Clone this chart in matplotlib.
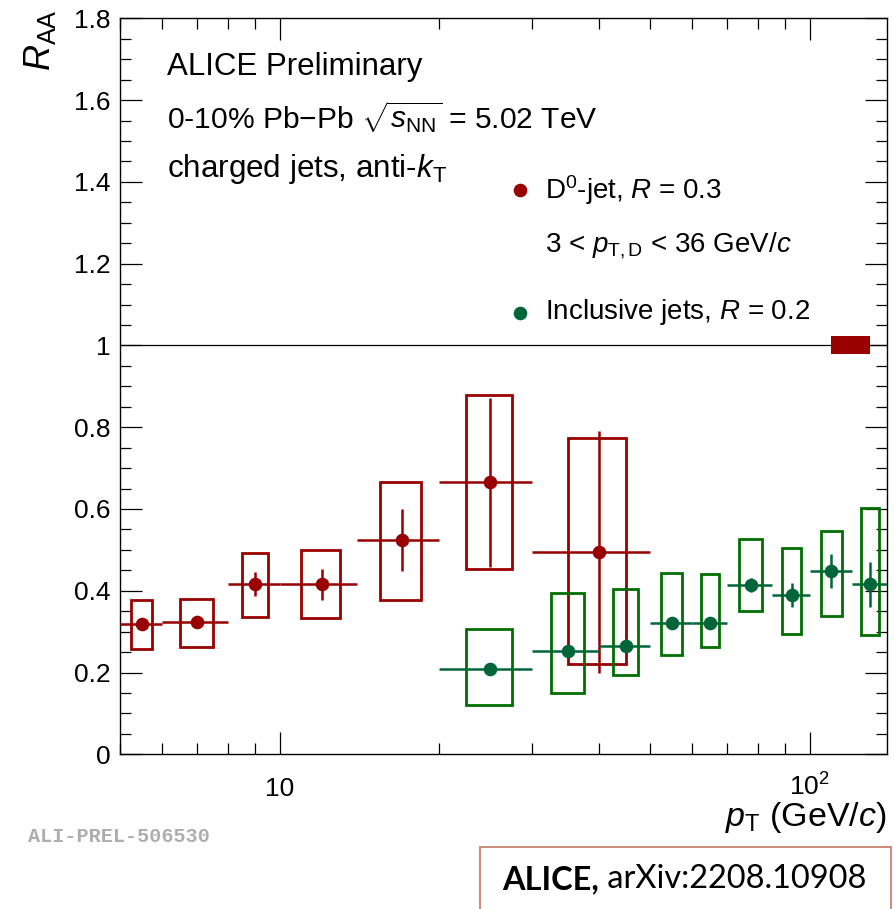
import matplotlib
matplotlib.use('Agg')
import matplotlib.pyplot as plt
import numpy as np
from matplotlib.patches import Rectangle
from matplotlib.ticker import FixedLocator, FixedFormatter, LogLocator, NullFormatter, MultipleLocator, FuncFormatter

# ---------------- data ----------------
# D0-jet, R = 0.3
d0_x = [5.5, 7, 9, 12, 17, 25, 40]
d0_lo = [5, 6, 8, 10, 14, 20, 30]
d0_hi = [6, 8, 10, 14, 20, 30, 50]
d0_y = [0.318, 0.323, 0.416, 0.416, 0.524, 0.665, 0.495]
d0_stat = [0.010, 0.010, 0.030, 0.038, 0.075, 0.206, 0.295]
d0_sys_lo = [0.257, 0.263, 0.337, 0.333, 0.378, 0.452, 0.220]
d0_sys_hi = [0.377, 0.380, 0.492, 0.500, 0.666, 0.879, 0.773]

# Inclusive jets, R = 0.2
inc_x = [25, 35, 45, 55, 65, 77.5, 92.5, 110, 130]
inc_lo = [20, 30, 40, 50, 60, 70, 85, 100, 120]
inc_hi = [30, 40, 50, 60, 70, 85, 100, 120, 140]
inc_y = [0.208, 0.253, 0.266, 0.320, 0.322, 0.414, 0.390, 0.448, 0.416]
inc_stat = [0.008, 0.008, 0.008, 0.008, 0.008, 0.016, 0.030, 0.042, 0.055]
inc_sys_lo = [0.121, 0.151, 0.194, 0.242, 0.262, 0.351, 0.294, 0.338, 0.292]
inc_sys_hi = [0.306, 0.394, 0.404, 0.444, 0.441, 0.526, 0.505, 0.547, 0.602]

# global normalisation uncertainty of D0-jet
glob_x = [110, 130]
glob_unc = 0.022

yticks = [0, 0.2, 0.4, 0.6, 0.8, 1.0, 1.2, 1.4, 1.6, 1.8]
xticks = [10, 100]
xticklabels = ['10', r'$10^{2}$']

# ---------------- style ----------------
plt.rcParams['font.family'] = ['Liberation Sans', 'DejaVu Sans']
plt.rcParams['mathtext.fontset'] = 'custom'
plt.rcParams['mathtext.rm'] = 'Liberation Sans'
plt.rcParams['mathtext.it'] = 'Liberation Sans:italic'
plt.rcParams['mathtext.bf'] = 'Liberation Sans:bold'

RED = '#990000'
GREEN_M = '#00663a'
GREEN_B = '#006e00'

W, H = 895, 909
fig = plt.figure(figsize=(W / 100, H / 100), dpi=100)
ax_l, ax_r, ax_t, ax_b = 120, 887, 18.3, 754.3
ax = fig.add_axes([ax_l / W, 1 - ax_b / H, (ax_r - ax_l) / W, (ax_b - ax_t) / H])

ax.set_xscale('log')
ax.set_xlim(5, 140)
ax.set_ylim(0, 1.8)

ax.xaxis.set_major_locator(FixedLocator(xticks))
ax.xaxis.set_major_formatter(FixedFormatter(xticklabels))
ax.xaxis.set_minor_locator(LogLocator(base=10, subs=np.arange(2, 10), numticks=20))
ax.xaxis.set_minor_formatter(NullFormatter())
ax.yaxis.set_major_locator(FixedLocator(yticks))
ax.yaxis.set_major_formatter(FuncFormatter(lambda v, p: f'{v:g}'))
ax.yaxis.set_minor_locator(MultipleLocator(0.05))

ax.tick_params(which='both', direction='in', top=True, right=True, width=0.9, colors='k')
ax.tick_params(which='major', length=16, labelsize=19)
ax.tick_params(which='minor', length=8)
ax.tick_params(axis='x', which='major', pad=30)
ax.tick_params(axis='y', which='major', pad=7)
for t in ax.xaxis.get_major_ticks():
    t.label1.set_verticalalignment('baseline')
for s in ax.spines.values():
    s.set_linewidth(1.0)

# reference line at 1
ax.axhline(1.0, color='k', lw=0.9, zorder=1)

# global uncertainty box
ax.add_patch(Rectangle((glob_x[0], 1 - glob_unc), glob_x[1] - glob_x[0], 2 * glob_unc,
                       facecolor=RED, edgecolor='none', zorder=3))


def draw_series(x, lo, hi, y, stat, slo, shi, cm, cb, z):
    for xi, l, h, s0, s1 in zip(x, lo, hi, slo, shi):
        hw = (h - l) / 4.0
        ax.add_patch(Rectangle((xi - hw, s0), 2 * hw, s1 - s0, fill=False,
                               edgecolor=cb, lw=2.0, zorder=z))
    xerr = [np.array(x) - np.array(lo), np.array(hi) - np.array(x)]
    ax.errorbar(x, y, xerr=xerr, yerr=stat, fmt='o', color=cm, ms=9.8, mew=0,
                elinewidth=1.8, capsize=0, zorder=z + 0.5)


draw_series(d0_x, d0_lo, d0_hi, d0_y, d0_stat, d0_sys_lo, d0_sys_hi, RED, RED, 4)
draw_series(inc_x, inc_lo, inc_hi, inc_y, inc_stat, inc_sys_lo, inc_sys_hi, GREEN_M, GREEN_B, 6)


def axx(px):
    return (px - ax_l) / (ax_r - ax_l)


def axy(py):
    return (ax_b - py) / (ax_b - ax_t)


# top-left labels
ax.text(axx(166.7), axy(75), 'ALICE Preliminary', transform=ax.transAxes, fontsize=22.5, va='baseline')
ax.text(axx(166.7), axy(128.3), r'0-10% Pb$-$Pb $\sqrt{s_{\mathrm{NN}}}$ = 5.02 TeV',
        transform=ax.transAxes, fontsize=21.6, va='baseline')
ax.text(axx(166.7), axy(176.7), r'charged jets, anti-$k_{\mathrm{T}}$', transform=ax.transAxes,
        fontsize=22.6, va='baseline')

# legend
lg_size = 20
ax.plot([axx(520)], [axy(190)], 'o', color=RED, ms=9.8, mew=0, transform=ax.transAxes, clip_on=False)
ax.plot([axx(520)], [axy(312.7)], 'o', color=GREEN_M, ms=9.8, mew=0, transform=ax.transAxes, clip_on=False)
ax.text(axx(545), axy(199.3), r'D$^{0}$-jet, $R$ = 0.3', transform=ax.transAxes, fontsize=lg_size, va='baseline')
ax.text(axx(545), axy(251.7), r'3 < $p_{\mathrm{T,D}}$ < 36 GeV/$c$', transform=ax.transAxes,
        fontsize=lg_size, va='baseline')
ax.text(axx(545), axy(319.3), r'Inclusive jets, $R$ = 0.2', transform=ax.transAxes, fontsize=lg_size,
        va='baseline')

# axis titles
ax.text(1.0, axy(826), r'$p_{\mathrm{T}}$ (GeV/$c$)', transform=ax.transAxes, fontsize=24.5,
        ha='right', va='baseline')
fig.text(40 / W, 1 - 9 / H, r'$R_{\mathrm{AA}}$', rotation=90, fontsize=26, ha='center', va='top')

# preliminary tag
fig.text(28 / W, 1 - 837 / H, 'ALI-PREL-506530', family='Liberation Mono', weight='bold',
         color='#adadad', fontsize=14.5, ha='left', va='center')

# reference box
fig.patches.append(Rectangle((480 / W, -0.05), (891.5 - 480) / W, 0.05 + (909 - 847) / H,
                             transform=fig.transFigure, fill=False, edgecolor='#c9826f', lw=1.3))
t1 = fig.text(502 / W, 1 - 889 / H, 'ALICE,', family='Lato', weight='bold', fontsize=23.4,
              ha='left', va='baseline')
ax.annotate(' arXiv:2208.10908', xy=(1, 0), xycoords=t1, family='Lato', fontsize=23.4,
            ha='left', va='bottom', annotation_clip=False)

fig.savefig('out.png', dpi=100)
